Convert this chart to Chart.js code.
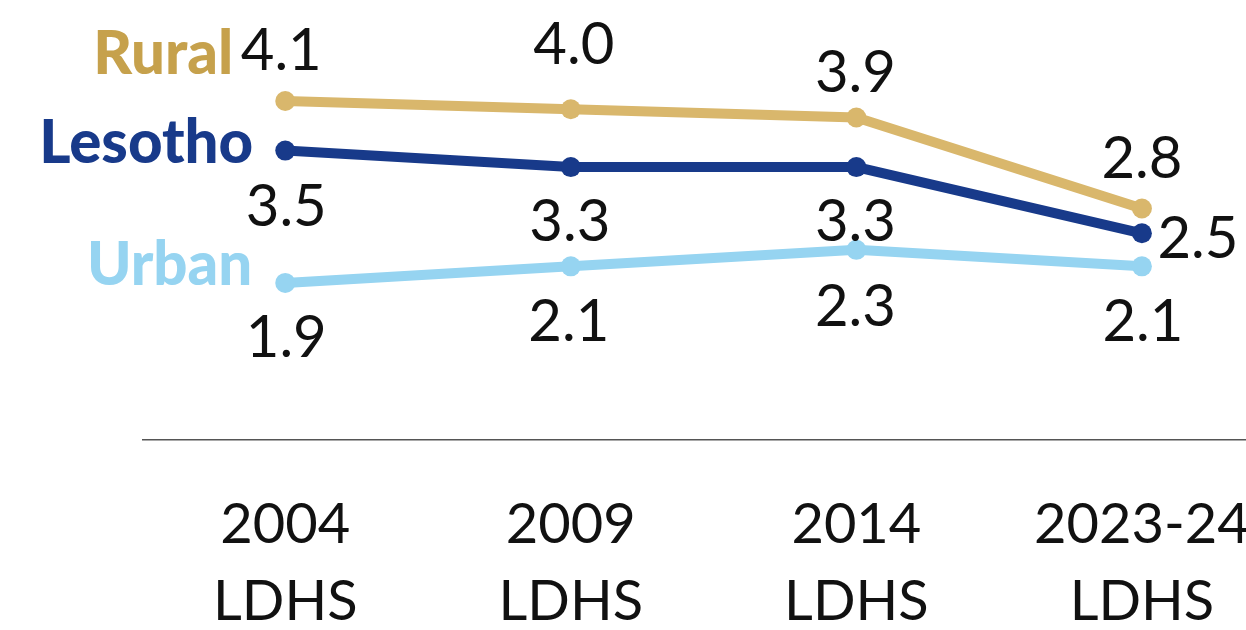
<!DOCTYPE html>
<html>
<head>
<meta charset="utf-8">
<script src="https://cdn.jsdelivr.net/npm/chart.js@4.4.1/dist/chart.umd.min.js"></script>
<style>
  html, body { margin: 0; padding: 0; background: #ffffff; overflow: hidden; }
  #wrap { position: relative; width: 1297px; height: 630px; }
</style>
</head>
<body>
<div id="wrap"><canvas id="c"></canvas></div>
<script>
// ---- data ----
const categories = [["2004", "LDHS"], ["2009", "LDHS"], ["2014", "LDHS"], ["2023-24", "LDHS"]];
const seriesNames = ["Rural", "Lesotho", "Urban"];
const rural = [4.1, 4.0, 3.9, 2.8];
const lesotho = [3.5, 3.3, 3.3, 2.5];
const urban = [1.9, 2.1, 2.3, 2.1];

// ---- styles ----
const lineColors = { Rural: "#D9B76C", Lesotho: "#183A8A", Urban: "#96D4F1" };
const nameColors = { Rural: "#C6A14C", Lesotho: "#183A8A", Urban: "#96D4F1" };
const FONT = "Lato, 'Open Sans', sans-serif";

// label offsets (dx, dy to baseline) relative to each point
const labelOffsets = {
  Rural:   [[-4, -31], [3, -45], [-1, -26], [0, -30]],
  Lesotho: [[1, 75], [-1, 74], [-1, 74], [56, 25]],
  Urban:   [[1, 74], [-2, 75], [-1, 76], [1, 75]]
};
// series name placement (right edge dx, baseline dy) relative to first point
const nameOffsets = {
  Rural:   [-52, -27],
  Lesotho: [-32, 12],
  Urban:   [-33, 2]
};

const labelPlugin = {
  id: "labels",
  afterDatasetsDraw(chart) {
    const ctx = chart.ctx;
    ctx.save();
    chart.data.datasets.forEach((ds, di) => {
      const meta = chart.getDatasetMeta(di);
      const name = ds.label;
      ctx.font = "400 58px " + FONT;
      ctx.fillStyle = "#111111";
      ctx.textAlign = "center";
      ctx.textBaseline = "alphabetic";
      meta.data.forEach((pt, i) => {
        const off = labelOffsets[name][i];
        ctx.fillText(ds.data[i].toFixed(1), pt.x + off[0], pt.y + off[1]);
      });
      const first = meta.data[0];
      const no = nameOffsets[name];
      ctx.font = "900 60px " + FONT;
      ctx.fillStyle = nameColors[name];
      ctx.textAlign = "right";
      ctx.fillText(name, first.x + no[0], first.y + no[1]);
    });
    ctx.restore();
  }
};

const values = { Rural: rural, Lesotho: lesotho, Urban: urban };

new Chart(document.getElementById("c"), {
  type: "line",
  data: {
    labels: categories,
    datasets: seriesNames.map(n => ({
      label: n,
      data: values[n],
      borderColor: lineColors[n],
      backgroundColor: lineColors[n],
      pointBackgroundColor: lineColors[n],
      pointBorderWidth: 0,
      pointRadius: 10,
      pointHoverRadius: 10,
      borderWidth: 10,
      tension: 0,
      clip: false
    }))
  },
  options: {
    responsive: true,
    maintainAspectRatio: false,
    animation: false,
    layout: { padding: { left: 142.5, right: 8.5, top: 5, bottom: 0 } },
    plugins: { legend: { display: false }, tooltip: { enabled: false } },
    scales: {
      y: { display: false, min: 0, max: 5.2 },
      x: {
        offset: true,
        grid: { display: false, drawTicks: false },
        border: { display: true, color: "#555555", width: 1.5 },
        afterFit(scale) { scale.height = 190; },
        ticks: {
          color: "#111111",
          font: { family: FONT, size: 56, lineHeight: 1.375 },
          padding: 46,
          maxRotation: 0,
          autoSkip: false
        }
      }
    }
  },
  plugins: [labelPlugin]
});
</script>
</body>
</html>
